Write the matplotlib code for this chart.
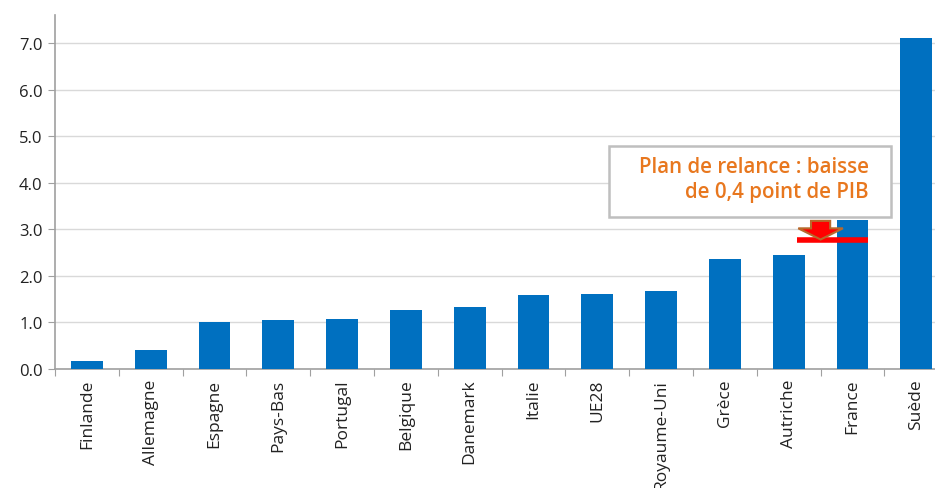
import matplotlib
matplotlib.use("Agg")
import matplotlib.pyplot as plt
from matplotlib.patches import FancyArrow, Rectangle
import numpy as np

categories = ["Finlande", "Allemagne", "Espagne", "Pays-Bas", "Portugal", "Belgique",
              "Danemark", "Italie", "UE28", "Royaume-Uni", "Grèce", "Autriche", "France", "Suède"]
values = [0.17, 0.41, 1.0, 1.05, 1.07, 1.27, 1.33, 1.59, 1.61, 1.67, 2.36, 2.45, 3.2, 7.11]
yticks = [0, 1, 2, 3, 4, 5, 6, 7]
france_after = 2.78
annot_text = "Plan de relance : baisse\nde 0,4 point de PIB"

plt.rcParams['font.family'] = ['Open Sans', 'DejaVu Sans']

W, H = 935, 489
fig = plt.figure(figsize=(W / 100, H / 100), dpi=100)
left = 55
slot = 63.8
ax = fig.add_axes([left / W, (H - 370) / H, (W - left) / W, (370 - 16) / H])

x = np.arange(len(categories))
ax.bar(x, values, width=0.5, color="#0070C0", zorder=3)
ax.set_xlim(-0.5, (W - left) / slot - 0.5)
ax.set_ylim(0, 7.6)
ax.set_yticks(yticks)
ax.set_yticklabels([f"{v:.1f}" for v in yticks], fontsize=12, color="#222222")
ax.yaxis.grid(True, color="#D9D9D9", linewidth=1, zorder=0)
ax.set_axisbelow(True)

ax.set_xticks(np.arange(-0.5, len(categories) - 0.5, 1.0))
ax.set_xticklabels([])
ax.set_xticks(x, minor=True)
ax.set_xticklabels(categories, minor=True, rotation=90, fontsize=12.5, color="#222222")
ax.tick_params(axis="x", which="minor", length=0, pad=7)
ax.tick_params(axis="x", which="major", length=5, color="#A0A0A0")
ax.tick_params(axis="y", length=5, color="#A0A0A0", pad=4)

for s in ["top", "right"]:
    ax.spines[s].set_visible(False)
for s in ["left", "bottom"]:
    ax.spines[s].set_color("#A0A0A0")
    ax.spines[s].set_linewidth(1.2)

# red line (after relance)
fi = categories.index("France")
ax.plot([fi - 0.87, fi + 0.25], [france_after, france_after], color="#FF0000", lw=4, zorder=5,
        solid_capstyle="butt")
# arrow
ax.add_patch(FancyArrow(fi - 0.5, values[fi] - 0.02, 0, -(values[fi] - 0.02 - france_after),
                        width=0.3, head_width=0.7, head_length=0.24,
                        length_includes_head=True, facecolor="#FF0000", edgecolor="#B8692B",
                        linewidth=1.5, zorder=6))

# annotation box
fig.patches.append(Rectangle((609 / W, (H - 218) / H), (891 - 609) / W, (218 - 147) / H,
                             transform=fig.transFigure, facecolor="white", edgecolor="#BFBFBF",
                             linewidth=1.8, zorder=10))
fig.text(869 / W, (H - 180) / H, annot_text, ha="right", va="center",
         fontsize=14.8, fontweight="semibold", color="#E8771E", linespacing=1.2, zorder=11)

fig.savefig("out.png", dpi=100)
